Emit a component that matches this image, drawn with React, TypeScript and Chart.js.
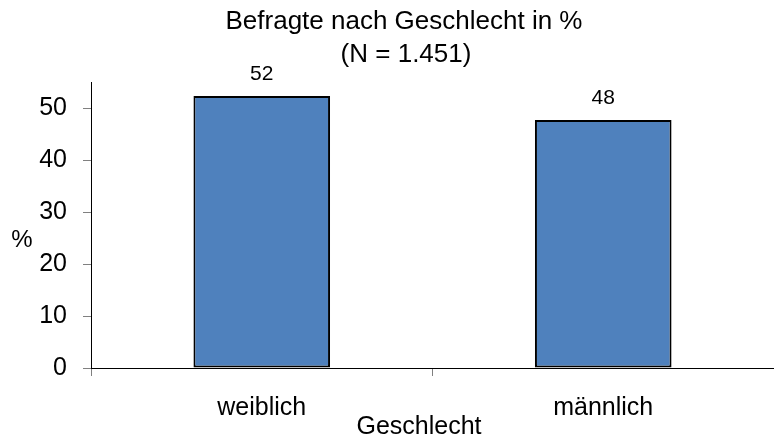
import React, { useEffect, useRef } from "react";
import { Chart, registerables } from "chart.js";

Chart.register(...registerables);

const titleLines = ["Befragte nach Geschlecht in %", "(N = 1.451)"];
const categories = ["weiblich", "männlich"];
const values = [52.3, 47.7];
const valueLabels = ["52", "48"];
const yTicks = [0, 10, 20, 30, 40, 50];
const yMax = 55;
const xAxisTitle = "Geschlecht";
const yAxisTitle = "%";

const FONT = "'Liberation Sans', Arial, Helvetica, sans-serif";

const textPlugin = {
  id: "customTexts",
  afterDraw(chart: any) {
    const ctx = chart.ctx;
    ctx.save();
    ctx.fillStyle = "#000";
    // title
    ctx.font = `26px ${FONT}`;
    ctx.textAlign = "center";
    ctx.textBaseline = "alphabetic";
    ctx.fillText(titleLines[0], 404, 28.5);
    ctx.fillText(titleLines[1], 406, 62);
    // value labels
    const meta = chart.getDatasetMeta(0);
    ctx.font = `21px ${FONT}`;
    meta.data.forEach((bar: any, i: number) => {
      ctx.fillText(valueLabels[i], bar.x, bar.y - 16);
    });
    // x axis title
    ctx.font = `25px ${FONT}`;
    ctx.fillText(xAxisTitle, 419, 434);
    // y axis title
    ctx.font = `24px ${FONT}`;
    ctx.textBaseline = "middle";
    ctx.fillText(yAxisTitle, 22, 240);
    ctx.restore();
  },
};

export default function App() {
  const ref = useRef<HTMLCanvasElement>(null);
  useEffect(() => {
    if (!ref.current) return;
    Chart.defaults.font.family = FONT;
    const chart = new Chart(ref.current, {
      type: "bar",
      data: {
        labels: categories,
        datasets: [
          {
            data: values,
            backgroundColor: "#4F81BD",
            borderColor: "#000000",
            borderWidth: 2,
            borderSkipped: false,
            barPercentage: 0.8,
            categoryPercentage: 0.5,
          },
        ],
      },
      options: {
        responsive: false,
        animation: false,
        layout: { padding: { top: 82, left: 0, right: 0, bottom: 0 } },
        plugins: {
          legend: { display: false },
          title: { display: false },
          tooltip: { enabled: false },
        },
        scales: {
          x: {
            offset: true,
            grid: {
              offset: true,
              drawOnChartArea: false,
              drawTicks: true,
              tickLength: 8,
              color: "#808080",
            },
            border: { display: true, color: "#000000", width: 1 },
            ticks: {
              color: "#000000",
              font: { size: 25 },
              padding: 17,
              maxRotation: 0,
            },
            afterFit(scale: any) {
              scale.height = 68;
              scale.paddingLeft = 0;
              scale.paddingRight = 0;
            },
          },
          y: {
            min: 0,
            max: yMax,
            grid: {
              drawOnChartArea: false,
              drawTicks: true,
              tickLength: 8,
              color: "#808080",
            },
            border: { display: true, color: "#000000", width: 1 },
            ticks: {
              stepSize: 10,
              color: "#000000",
              font: { size: 25 },
              padding: 16,
            },
            afterBuildTicks(scale: any) {
              scale.ticks = yTicks.map((v) => ({ value: v }));
            },
            afterFit(scale: any) {
              scale.width = 91;
              scale.paddingTop = 0;
              scale.paddingBottom = 0;
            },
          },
        },
      },
      plugins: [textPlugin],
    });
    return () => chart.destroy();
  }, []);
  return (
    <div style={{ position: "fixed", left: 0, top: 0, width: 774, height: 436, background: "#fff" }}>
      <canvas ref={ref} width={774} height={436} style={{ display: "block" }} />
    </div>
  );
}
